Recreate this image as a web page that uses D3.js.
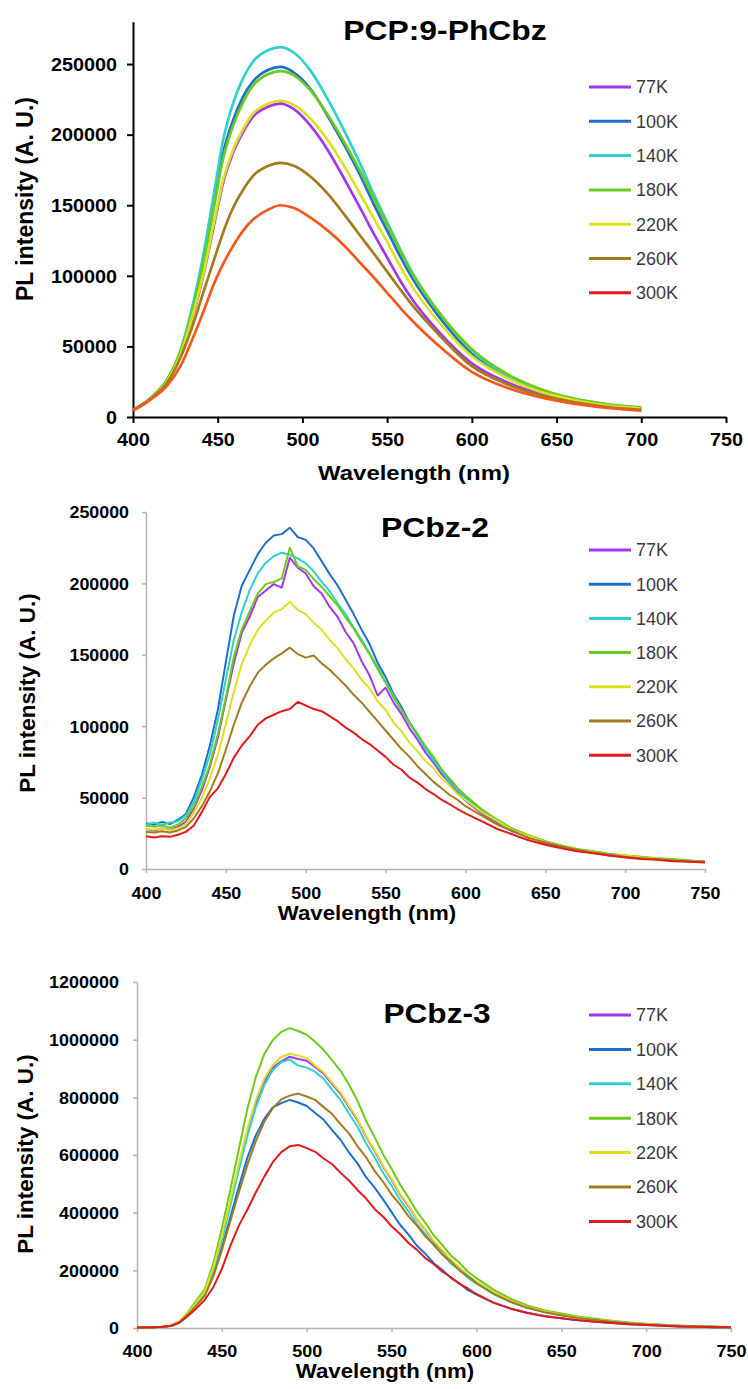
<!DOCTYPE html>
<html>
<head>
<meta charset="utf-8">
<script src="https://cdn.jsdelivr.net/npm/d3@7"></script>
<style>
  body { margin: 0; background: #fff; }
  svg text { font-family: "Liberation Sans", Arial, sans-serif; }
</style>
</head>
<body>
<script>
// ---- datos ----
var temperaturas = ['77K', '100K', '140K', '180K', '220K', '260K', '300K'];
var colores = ['#A535EF', '#1E6FCC', '#2ED0D0', '#6CCB1A', '#DDE020', '#A37B1E', '#E31A1C'];
var coloresCurva1 = ['#A535EF', '#1E6FCC', '#2ED0D0', '#6CCB1A', '#DDE020', '#A37B1E', '#F05A1E'];

var ticksX = [400, 450, 500, 550, 600, 650, 700, 750];
var ticksY1 = [0, 50000, 100000, 150000, 200000, 250000];
var ticksY2 = [0, 50000, 100000, 150000, 200000, 250000];
var ticksY3 = [0, 200000, 400000, 600000, 800000, 1000000, 1200000];

// panel 1: PCP:9-PhCbz (curvas suaves)
var wl1 = [400,410,420,428,435,442,448,453,459,465,471,480,487,495,505,515,525,535,542,550,558,565,580,600,620,640,660,680,700];
var p1_77  = [5000,12500,25000,44000,70000,103000,137000,165000,187000,202000,213000,220000,222000,218000,206000,189000,168000,146000,130000,113000,96000,83000,61000,38000,25000,16500,11000,7500,5500];
var p1_100 = [5000,13000,26000,46000,76000,114000,153000,186000,210000,227000,238000,246000,248000,244000,232000,213000,192000,169000,151000,132000,113000,98000,72000,45000,29000,19000,12500,8500,6200];
var p1_140 = [5000,13000,26000,47000,78000,118000,160000,195000,222000,240000,252000,260000,262000,258000,245000,225000,202000,177000,158000,138000,118000,102000,75000,47000,30000,19500,13000,9000,6500];
var p1_180 = [5000,13000,26000,46000,75000,112000,150000,182000,206000,223000,235000,243000,245000,242000,231000,214000,194000,172000,155000,136000,117000,101000,75000,48000,31000,20000,13000,9000,6800];
var p1_220 = [5000,12500,25000,44000,71000,104000,139000,167000,189000,204000,215000,222000,224000,221000,211000,196000,177000,156000,141000,124000,106000,92000,68000,43000,28000,18000,12000,8000,6000];
var p1_260 = [5000,12500,24000,42000,64000,90000,112000,130000,148000,161000,171000,178000,180000,178000,170000,158000,143000,127000,116000,103000,90000,79000,59000,36000,23500,15500,10500,7000,5000];
var p1_300 = [4500,12000,22000,36000,55000,76000,95000,108000,121000,132000,140000,147000,150000,148000,141000,132000,121000,108000,99000,88000,77000,68000,51000,32000,21000,14000,9500,6500,4500];

// panel 2 y 3: rejilla de longitudes de onda
var wl = [400,405,410,415,420,425,430,435,440,445,450,455,460,465,470,475,480,485,490,495,
          500,505,510,515,520,525,530,535,540,545,550,555,560,565,570,575,580,585,590,595,600,
          610,620,630,640,650,660,670,680,690,700,710,720,730,740,750];

// panel 2: PCbz-2
var p2_77 = [28000,27000,28500,27500,29500, 33000,42500,55000,71500,92000, 118500,144000,165500,177000,190500,
             195000,199500,197000,218000,211000, 207000,198000,193000,183500,176500, 166000,158000,145500,135500,121500,
             127000,116500,108500,98500,90500, 81500,74500,66500,60500,53500, 48000,
             39000,32500,26000,22500,18000, 15500,13000,11500,9500,9000, 7500,7000,6000,5500,4800];
var p2_100 = [32000,31000,33000,31500,34500, 38500,50500,66000,86500,111500, 145000,177500,198500,209500,220500,
              228500,233500,234500,239000,232500, 230500,224500,215500,206500,198500, 188500,178500,167500,157500,144500,
              134500,122500,113500,102500,94500, 84500,77500,68500,62500,55500, 50000,
              40500,33000,27500,22000,19000, 16000,13500,12000,10000,9000, 8000,7000,6500,5500,5000];
var p2_140 = [31000,32500,31000,32500,33500, 37500,47000,62500,80000,104500, 133000,160500,180000,195500,207000,
              214500,219000,221500,220000,217500, 214000,208500,201000,194500,186000, 178500,169000,160500,151000,141500,
              131000,121500,111000,102500,93000, 84500,76000,68500,61000,55500, 49500,
              40500,33500,27000,23000,19500, 16500,13500,12500,10500,9500, 8000,7500,6500,6000,5000];
var p2_180 = [30500,29500,30500,29000,31000, 35500,44000,57500,73000,94500, 120000,148500,168000,180500,193000,
              199500,201000,203500,225000,212000, 209500,203000,197500,191000,184500, 176000,168500,159000,150500,140000,
              130500,120000,111500,102000,94500, 86000,78500,70000,63500,57000, 51500,
              42000,34500,28000,23500,19500, 16500,14000,12500,10500,9500, 8500,7500,7000,6000,5000];
var p2_220 = [28000,27500,28500,27000,28500, 31500,39500,50000,63500,80000, 101500,124000,143500,157000,167500,
              174000,179500,182000,187000,181500, 178500,172500,167500,160500,154500, 147000,140500,132500,126500,117500,
              111500,102500,96500,88500,82500, 75500,70500,63500,58500,52500, 48500,
              40000,33500,27000,23000,19000, 16500,13500,12000,10000,9500, 8000,7500,6000,5500,5000];
var p2_260 = [26000,25500,26500,25500,27000, 29500,35500,44000,54500,67000, 83500,101000,116500,128000,137500,
              143000,147500,151000,155000,150500, 148000,149500,144000,139500,134000, 128500,122000,116500,110000,103500,
              97000,90500,84000,78500,72000, 66500,61000,56500,52000,48500, 44000,
              37500,31000,26500,21500,18500, 16000,13500,11500,10000,8500, 7500,7000,6000,5500,5000];
var p2_300 = [23000,22000,23000,22500,24000, 26000,30500,40000,50500,56500, 66500,78000,86500,93000,101000,
              105500,108000,110500,112000,117000, 114500,112000,110500,107000,103500, 99000,95500,91000,87500,83000,
              78500,73000,69500,64000,60500, 56000,52500,48500,45500,42000, 39000,
              33500,28000,24000,20000,17000, 14500,12500,11000,9500,8000, 7000,6500,5500,5000,4500];

// panel 3: PCbz-3
var p3_77 = [2000,2000,3000,4000,8000, 21000,51000,86000,125000,205000, 312000,435000,560000,678000,778000,
             852000,903000,925000,941000,933000, 927000,905000,882000,846000,812000, 766000,720000,663000,614000,560000,
             514000,463000,422000,376000,340000, 298000,268000,234000,209000,181000, 159000,
             122000,94000,72000,57000,45000, 36000,28500,22500,17000,13000, 10000,7500,5500,4000,3000];
var p3_100 = [2000,2000,3000,4000,8000, 21000,49000,82000,118000,188000, 280000,385000,490000,590000,668000,
              725000,765000,780000,791000,782000, 770000,746000,722000,686000,652000, 608000,570000,523000,487000,446000,
              402000,358000,324000,285000,257000, 224000,201000,173000,155000,131000, 116000,
              88000,68000,53000,42000,34000, 27000,21500,17000,13000,10000, 7500,5500,4000,3000,2500];
var p3_140 = [2000,2000,3000,4000,8000, 21000,50000,84000,122000,200000, 305000,425000,548000,665000,765000,
              842000,895000,922000,931000,910000, 903000,888000,864000,826000,790000, 743000,697000,640000,592000,538000,
              494000,444000,404000,359000,325000, 285000,256000,223000,201000,173000, 154000,
              118000,91000,70000,55000,44000, 35000,28000,22000,16500,12500, 9500,7000,5000,4000,3000];
var p3_180 = [2000,2000,3000,4000,8000, 22000,55000,95000,135000,225000, 345000,480000,620000,760000,870000,
              950000,998000,1027000,1040000,1030000, 1017000,993000,964000,928000,892000, 843000,787000,718000,662000,603000,
              552000,498000,452000,403000,364000, 320000,287000,251000,226000,195000, 173000,
              133000,102000,78000,62000,50000, 40000,32000,25000,19000,15000, 11000,8000,6000,4000,3000];
var p3_220 = [2000,2000,3000,4000,8000, 21000,52000,88000,128000,210000, 320000,445000,570000,690000,790000,
              865000,912000,940000,951000,945000, 936000,910000,887000,850000,817000, 770000,724000,666000,617000,563000,
              517000,466000,425000,378000,342000, 301000,270000,236000,211000,182000, 161000,
              124000,95000,73000,58000,46000, 37000,29000,23000,17500,13500, 10000,7500,5500,4000,3000];
var p3_260 = [2000,2000,3000,4000,8000, 20000,47000,78000,112000,180000, 270000,370000,470000,565000,648000,
              715000,762000,793000,806000,813000, 803000,791000,766000,742000,706000, 674000,630000,592000,545000,507000,
              463000,428000,387000,355000,317000, 289000,254000,230000,200000,180000, 156000,
              119000,91000,70000,55000,44000, 35000,28000,22000,16500,12500, 9500,7000,5000,4000,3000];
var p3_300 = [2000,2000,3000,4000,7000, 18000,42000,68000,98000,142000, 205000,285000,355000,410000,470000,
              525000,575000,610000,630000,635000, 624000,611000,588000,568000,538000, 511000,478000,449000,413000,386000,
              353000,326000,295000,271000,242000, 221000,195000,176000,153000,137000, 118000,
              88000,67000,52000,41000,34000, 27000,21500,17000,13000,10000, 7500,5500,4000,3000,2500];

// ---- lienzo ----
var anchoSvg = 748, altoSvg = 1389;
var svg = d3.select('body').append('svg')
    .attr('width', anchoSvg)
    .attr('height', altoSvg);

function textoEstirado(g, x, y, txt, tam, sx, peso, ancla, color) {
    return g.append('text')
        .attr('transform', 'translate(' + x + ',' + y + ') scale(' + sx + ',1)')
        .attr('text-anchor', ancla || 'middle')
        .attr('font-size', tam)
        .attr('font-weight', peso || 'bold')
        .attr('fill', color || '#000')
        .text(txt);
}

function dibujaPanel(cfg) {
    var g = svg.append('g').attr('class', 'panel');

    var escalaX = d3.scaleLinear().domain([400, 750]).range(cfg.rangoX);
    var escalaY = d3.scaleLinear().domain([0, cfg.maxY]).range(cfg.rangoY);

    // eje Y
    var ejeY = d3.axisLeft(escalaY)
        .tickValues(cfg.ticksY)
        .tickSize(cfg.tick)
        .tickSizeOuter(0)
        .tickFormat(d3.format('d'));
    var gy = g.append('g')
        .attr('transform', 'translate(' + cfg.rangoX[0] + ',0)')
        .call(ejeY);

    // eje X
    var ejeX = d3.axisBottom(escalaX)
        .tickValues(ticksX)
        .tickSize(cfg.tick)
        .tickSizeOuter(0)
        .tickFormat(d3.format('d'));
    var gx = g.append('g')
        .attr('transform', 'translate(0,' + cfg.rangoY[0] + ')')
        .call(ejeX);

    [gx, gy].forEach(function (e) {
        e.attr('font-family', null).attr('font-size', null);
        e.select('.domain').attr('stroke', cfg.colorEje).attr('stroke-width', cfg.grosorEje);
        e.selectAll('.tick line').attr('stroke', cfg.colorEje).attr('stroke-width', cfg.grosorEje);
    });
    gy.selectAll('.tick text')
        .attr('x', 0).attr('dy', '0.35em')
        .attr('transform', 'translate(' + (-cfg.sepY) + ',0) scale(' + cfg.estiraTick + ',1)')
        .attr('font-size', cfg.tamTick).attr('font-weight', 'bold').attr('fill', '#000');
    gx.selectAll('.tick text')
        .attr('y', 0).attr('dy', '0.71em')
        .attr('transform', 'translate(0,' + cfg.sepX + ') scale(' + cfg.estiraTick + ',1)')
        .attr('font-size', cfg.tamTick).attr('font-weight', 'bold').attr('fill', '#000');

    // curvas
    var linea = d3.line()
        .x(function (d) { return escalaX(d[0]); })
        .y(function (d) { return escalaY(d[1]); })
        .curve(cfg.curva);

    g.append('g').attr('class', 'grupo-lineas')
        .selectAll('path')
        .data(cfg.series)
        .enter()
        .append('path')
        .attr('d', function (s) { return linea(cfg.wl.map(function (w, i) { return [w, s[i]]; })); })
        .attr('fill', 'none')
        .attr('stroke', function (s, i) { return cfg.coloresLinea[i]; })
        .attr('stroke-width', cfg.grosorLinea)
        .attr('stroke-linejoin', 'round');

    // leyenda
    var ley = g.append('g').attr('class', 'leyendas')
        .selectAll('g')
        .data(temperaturas)
        .enter()
        .append('g')
        .attr('transform', function (d, i) { return 'translate(0,' + (cfg.leyenda.y + i * cfg.leyenda.paso) + ')'; });
    ley.append('line')
        .attr('x1', 589).attr('x2', 631)
        .attr('stroke', function (d, i) { return colores[i]; })
        .attr('stroke-width', 3);
    ley.append('text')
        .attr('x', 636).attr('dy', '0.36em')
        .attr('font-size', 18)
        .attr('fill', '#3b3b3b')
        .text(function (d) { return d; });

    // titulos
    textoEstirado(g, cfg.titulo.x, cfg.titulo.y, cfg.titulo.texto, cfg.titulo.tam, cfg.titulo.sx);
    textoEstirado(g, cfg.tituloX.x, cfg.tituloX.y, 'Wavelength (nm)', cfg.tituloX.tam, cfg.tituloX.sx);
    g.append('text')
        .attr('transform', 'translate(' + cfg.tituloY.x + ',' + cfg.tituloY.y + ') rotate(-90)')
        .attr('text-anchor', 'middle')
        .attr('font-size', cfg.tituloY.tam)
        .attr('font-weight', 'bold')
        .text('PL intensity (A. U.)');
}

dibujaPanel({
    wl: wl1,
    series: [p1_77, p1_100, p1_140, p1_180, p1_220, p1_260, p1_300],
    coloresLinea: coloresCurva1,
    rangoX: [133, 726], rangoY: [417, 21.7], maxY: 280000, ticksY: ticksY1,
    colorEje: '#000', grosorEje: 2, tick: 6,
    tamTick: 18, estiraTick: 1.1, sepY: 16, sepX: 16,
    curva: d3.curveMonotoneX, grosorLinea: 2.7,
    leyenda: { y: 87, paso: 34.3 },
    titulo: { texto: 'PCP:9-PhCbz', x: 445, y: 40, tam: 27, sx: 1.18 },
    tituloX: { x: 414, y: 480, tam: 21, sx: 1.14 },
    tituloY: { x: 33, y: 199, tam: 23 }
});

dibujaPanel({
    wl: wl,
    series: [p2_77, p2_100, p2_140, p2_180, p2_220, p2_260, p2_300],
    coloresLinea: colores,
    rangoX: [146, 705], rangoY: [869, 512], maxY: 250000, ticksY: ticksY2,
    colorEje: '#b4b4b4', grosorEje: 1.5, tick: 4,
    tamTick: 17, estiraTick: 1.05, sepY: 17, sepX: 18,
    curva: d3.curveLinear, grosorLinea: 2,
    leyenda: { y: 550, paso: 34.2 },
    titulo: { texto: 'PCbz-2', x: 435, y: 537, tam: 28, sx: 1.14 },
    tituloX: { x: 367, y: 920, tam: 21, sx: 1.06 },
    tituloY: { x: 35, y: 693, tam: 22.5 }
});

dibujaPanel({
    wl: wl,
    series: [p3_77, p3_100, p3_140, p3_180, p3_220, p3_260, p3_300],
    coloresLinea: colores,
    rangoX: [137, 731], rangoY: [1328, 982], maxY: 1200000, ticksY: ticksY3,
    colorEje: '#b4b4b4', grosorEje: 1.5, tick: 4,
    tamTick: 17, estiraTick: 1.06, sepY: 18, sepX: 17,
    curva: d3.curveLinear, grosorLinea: 2,
    leyenda: { y: 1015, paso: 34.4 },
    titulo: { texto: 'PCbz-3', x: 437, y: 1023, tam: 28, sx: 1.13 },
    tituloX: { x: 385, y: 1378, tam: 21, sx: 1.06 },
    tituloY: { x: 33, y: 1154, tam: 22.5 }
});
</script>
</body>
</html>
